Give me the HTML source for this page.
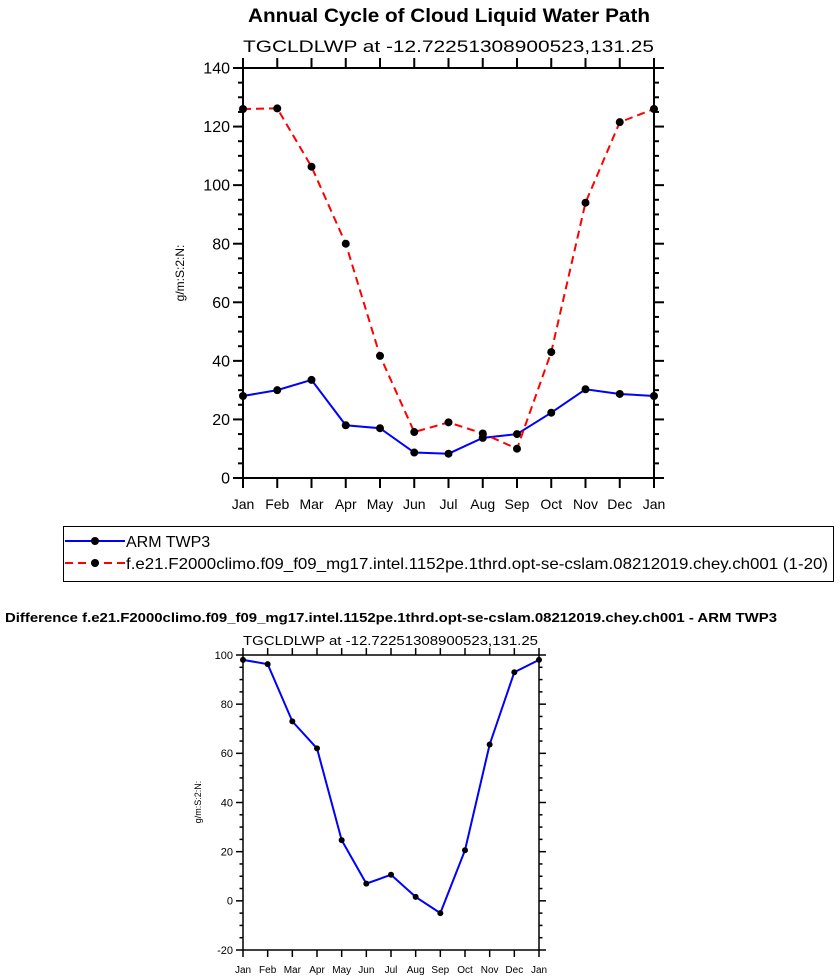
<!DOCTYPE html>
<html><head><meta charset="utf-8">
<style>
html,body{margin:0;padding:0;background:#fff;}
svg{display:block;font-family:"Liberation Sans",Helvetica,Arial,sans-serif;}
</style></head>
<body>
<svg id="s" width="840" height="980" viewBox="0 0 840 980" xmlns="http://www.w3.org/2000/svg">
<text x="248" y="22" textLength="402" lengthAdjust="spacingAndGlyphs" font-size="19" font-weight="bold">Annual Cycle of Cloud Liquid Water Path</text>
<text x="243" y="52" textLength="411" lengthAdjust="spacingAndGlyphs" font-size="17">TGCLDLWP at -12.72251308900523,131.25</text>
<text transform="translate(184,273) rotate(-90)" text-anchor="middle" font-size="12">g/m:S:2:N:</text>
<g id="top"></g>
<g>
<rect x="63.5" y="526.5" width="770" height="55" fill="none" stroke="#000" stroke-width="1"/>
<g>
<line x1="65" y1="541" x2="125" y2="541" stroke="#0000ff" stroke-width="2"/>
<circle cx="95" cy="541" r="4" fill="#000"/>
<text x="126" y="547" font-size="16">ARM TWP3</text></g>
<g>
<line x1="65" y1="563" x2="125" y2="563" stroke="#ff0000" stroke-width="2" stroke-dasharray="8,5"/>
<circle cx="95" cy="563" r="4" fill="#000"/>
<text x="126" y="569" font-size="16" textLength="702" lengthAdjust="spacingAndGlyphs">f.e21.F2000climo.f09_f09_mg17.intel.1152pe.1thrd.opt-se-cslam.08212019.chey.ch001 (1-20)</text></g>
</g>
<text x="5" y="622" font-size="13" font-weight="bold" textLength="772" lengthAdjust="spacingAndGlyphs">Difference f.e21.F2000climo.f09_f09_mg17.intel.1152pe.1thrd.opt-se-cslam.08212019.chey.ch001 - ARM TWP3</text>
<text x="243" y="645" font-size="13" textLength="295" lengthAdjust="spacingAndGlyphs">TGCLDLWP at -12.72251308900523,131.25</text>
<text transform="translate(201,802) rotate(-90)" text-anchor="middle" font-size="9">g/m:S:2:N:</text>
<g id="bot"></g>
</svg>
<script>
const months = ["Jan","Feb","Mar","Apr","May","Jun","Jul","Aug","Sep","Oct","Nov","Dec","Jan"];
const armValues = [28,30,33.5,18,17,8.7,8.3,13.7,15,22.3,30.3,28.7,28];
const modelValues = [126,126.2,106.3,80,41.7,15.7,19,15.2,10,43,94,121.5,126];
const diffValues = [98,96.3,73,62,24.7,7,10.6,1.6,-5,20.6,63.6,93,98];
const topYTicks = [0,20,40,60,80,100,120,140];
const botYTicks = [-20,0,20,40,60,80,100];
const NS="http://www.w3.org/2000/svg";
function mk(parent,tag,attrs){const e=document.createElementNS(NS,tag);for(const k in attrs)e.setAttribute(k,attrs[k]);parent.appendChild(e);return e;}
function plot(g,o){
  const xs=i=>o.x0+(o.x1-o.x0)*i/(months.length-1);
  const ys=v=>o.yb+(o.yt-o.yb)*(v-o.ymin)/(o.ymax-o.ymin);
  const ax=mk(g,'g',{});
  
  
  mk(ax,'rect',{x:o.x0,y:o.yt,width:o.x1-o.x0,height:o.yb-o.yt,fill:'none',stroke:'#000','stroke-width':o.lw});
  months.forEach((m,i)=>{
    const x=xs(i);
    mk(ax,'line',{x1:x,y1:o.yb,x2:x,y2:o.yb+o.tl,stroke:'#000','stroke-width':o.lw});
    mk(ax,'line',{x1:x,y1:o.yt,x2:x,y2:o.yt-o.tl,stroke:'#000','stroke-width':o.lw});
    const t=mk(ax,'text',{x:x,y:o.yb+o.xlo,'text-anchor':'middle','font-size':o.fs});
    t.textContent=m;
    
    
  });
  for(let v=o.ymin;v<=o.ymax+0.01;v+=o.minor){
    const y=ys(v);
    const major=o.ticks.includes(v);
    const l=major?o.tl:o.tl/2;
    mk(ax,'line',{x1:o.x0,y1:y,x2:o.x0-l,y2:y,stroke:'#000','stroke-width':o.lw});
    mk(ax,'line',{x1:o.x1,y1:y,x2:o.x1+l,y2:y,stroke:'#000','stroke-width':o.lw});
  }
  o.ticks.forEach(v=>{
    const t=mk(ax,'text',{x:o.x0-o.tl-3,y:ys(v)+o.yfs*0.35,'text-anchor':'end','font-size':o.yfs});
    t.textContent=v;
    
    
  });
  o.series.forEach(s=>{
    const sg=mk(g,'g',{});
    
    
    mk(sg,'polyline',{points:s.vals.map((v,i)=>xs(i)+','+ys(v)).join(' '),fill:'none',stroke:s.color,'stroke-width':2,'stroke-dasharray':s.dash||'none'});
    s.vals.forEach((v,i)=>{
      const c=mk(sg,'circle',{cx:xs(i),cy:ys(v),r:o.r,fill:'#000'});
      
      
    });
  });
}
plot(document.getElementById('top'),{name:'top',x0:243,x1:654,yt:68,yb:478,ymin:0,ymax:140,ticks:topYTicks,minor:5,tl:10,lw:2,fs:14,yfs:16,xlo:31,r:4,
  series:[{name:'arm-series',vals:armValues,color:'#0000ff'},{name:'model-series',vals:modelValues,color:'#ff0000',dash:'8,5'}]});
plot(document.getElementById('bot'),{name:'bottom',x0:243,x1:539,yt:655,yb:950,ymin:-20,ymax:100,ticks:botYTicks,minor:5,tl:7,lw:1.5,fs:10,yfs:11,xlo:23,r:3,
  series:[{name:'difference-series',vals:diffValues,color:'#0000ff'}]});
</script>
</body></html>
